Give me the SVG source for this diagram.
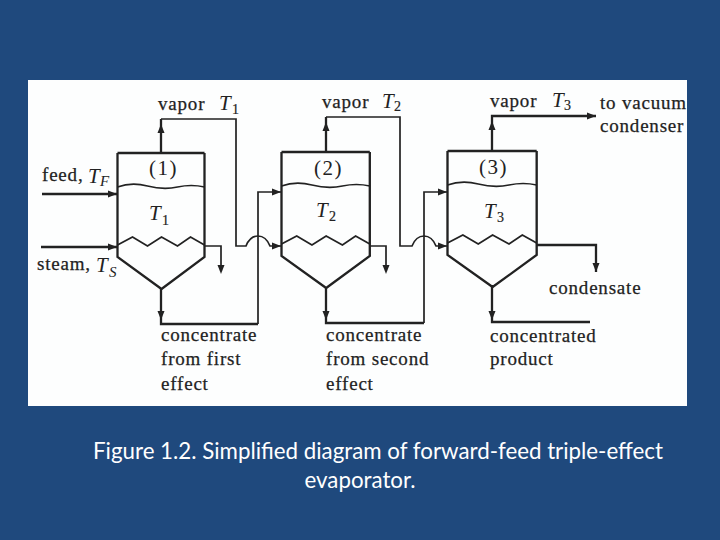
<svg xmlns="http://www.w3.org/2000/svg" width="720" height="540" viewBox="0 0 720 540">
<style>
.l{fill:none;stroke:#222;stroke-width:1.7;stroke-linejoin:miter}
.h{fill:none;stroke:#222;stroke-width:2.3}
.t{font-family:"Liberation Serif",serif;font-size:19px;letter-spacing:.8px;fill:#222;stroke:#222;stroke-width:.25}
.i{font-family:"Liberation Serif",serif;font-size:21px;font-style:italic;fill:#222}
.s{font-family:"Liberation Serif",serif;font-size:14px;fill:#222;stroke:#222;stroke-width:.2}
.si{font-family:"Liberation Serif",serif;font-size:15px;font-style:italic;fill:#222}
.n{font-family:"Liberation Serif",serif;font-size:21px;letter-spacing:1.5px;fill:#222}
.c{font-family:Lato,"Open Sans",sans-serif;font-size:22.300px;fill:#fff;text-anchor:middle}
</style>
<defs>
<path id="au" d="M0 0L-3.500 9H3.500Z" fill="#222"/>
<path id="ad" d="M0 0L-3.500 -9H3.500Z" fill="#222"/>
<path id="ar" d="M0 0L-9 -3.500V3.500Z" fill="#222"/>
<g id="vessel">
<path class="h" d="M0 0H87M0 0V92M87 0V92"/>
<path class="l" d="M0 34Q14 29 30 33T60 34T87 34"/>
<path class="l" d="M0 92L15 84L30 93L44 84L60 93L73 84L87 92"/>
<path class="h" d="M0 92V104L44 136L87 104V92"/>
</g>
</defs>
<rect width="720" height="540" fill="#1F497D"/>
<rect x="28" y="80" width="659" height="326" fill="#fdfefe"/>
<g id="connectors">
<path class="h" d="M161 153V119M42 194H117M41 247H117"/>
<path class="l" d="M161 119H236V246H246Q250 236 258 236T270 246H281"/>
<path class="l" d="M204 246H221V266"/>
<path class="h" d="M161 288V324H258"/>
<path class="l" d="M258 324V192H281"/>
<path class="h" d="M326 153V117"/>
<path class="l" d="M326 117H400V246H412Q416 236 424 236T436 246H447"/>
<path class="l" d="M370 246H386V266"/>
<path class="h" d="M326 288V323H424"/>
<path class="l" d="M424 323V192H447"/>
<path class="h" d="M492 151V116H596"/>
<path class="h" d="M537 245H596V272"/>
<path class="h" d="M492 285V322H590"/>
<use href="#au" x="161" y="124"/><use href="#ar" x="117" y="194"/><use href="#ar" x="117" y="247"/><use href="#ad" x="221" y="274"/>
<use href="#ar" x="281" y="192"/><use href="#ar" x="281" y="246"/><use href="#au" x="326" y="122"/><use href="#ad" x="386" y="274"/>
<use href="#ad" x="161" y="320"/><use href="#ad" x="326" y="320"/><use href="#ad" x="492" y="320"/>
<use href="#ar" x="447" y="192"/><use href="#ar" x="447" y="246"/><use href="#au" x="492" y="121"/><use href="#ar" x="596" y="116"/><use href="#ad" x="596" y="272"/>
</g>
<g id="effect-1"><use href="#vessel" x="117.500" y="153"/><text class="n" x="149" y="175">(1)</text><text class="i" x="149" y="220">T</text><text class="s" x="162" y="225">1</text></g>
<g id="effect-2"><use href="#vessel" transform="translate(281.500 152) scale(1.015 1)"/><text class="n" x="314" y="175">(2)</text><text class="i" x="316" y="217">T</text><text class="s" x="329" y="221">2</text></g>
<g id="effect-3"><use href="#vessel" transform="translate(447.500 151) scale(1.025 1)"/><text class="n" x="479" y="174">(3)</text><text class="i" x="484" y="218">T</text><text class="s" x="497" y="222">3</text></g>
<g id="labels">
<text class="t" x="158" y="110">vapor</text><text class="i" x="219" y="110">T</text><text class="s" x="232" y="114">1</text>
<text class="t" x="322" y="108">vapor</text><text class="i" x="382" y="108">T</text><text class="s" x="394" y="111">2</text>
<text class="t" x="490" y="107">vapor</text><text class="i" x="552" y="107">T</text><text class="s" x="564" y="110">3</text>
<text class="t" x="600" y="109">to vacuum</text><text class="t" x="600" y="132">condenser</text>
<text class="t" x="42" y="181">feed,</text><text class="i" x="88" y="183">T</text><text class="si" x="100" y="186">F</text>
<text class="t" x="37" y="270">steam,</text><text class="i" x="96" y="272">T</text><text class="si" x="109" y="277">S</text>
<text class="t" x="549" y="294">condensate</text>
<text class="t" x="161" y="341">concentrate</text><text class="t" x="161" y="365">from first</text><text class="t" x="161" y="390">effect</text>
<text class="t" x="326" y="341">concentrate</text><text class="t" x="326" y="365">from second</text><text class="t" x="326" y="390">effect</text>
<text class="t" x="490" y="342">concentrated</text><text class="t" x="490" y="365">product</text>
</g>
<text class="c" x="378" y="459">Figure 1.2. Simplified diagram of forward-feed triple-effect</text>
<text class="c" x="360" y="488">evaporator.</text>
</svg>
